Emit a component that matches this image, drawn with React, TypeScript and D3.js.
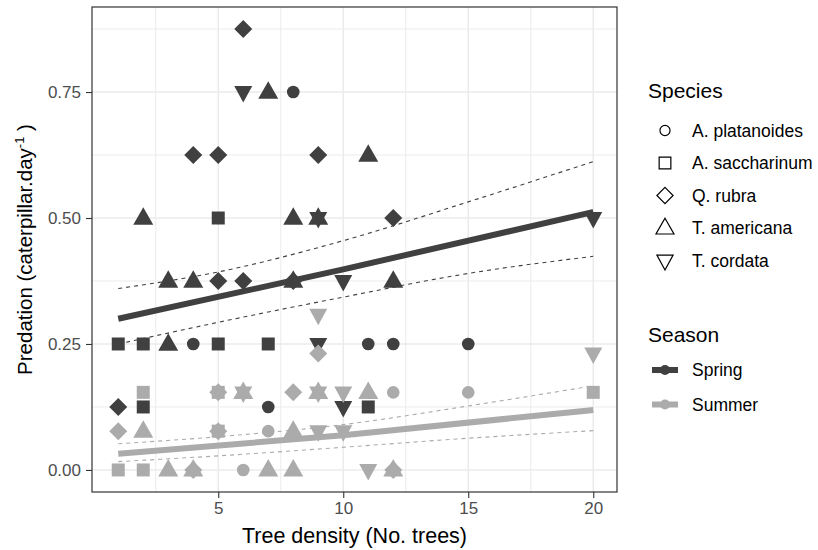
import React, { useRef, useEffect } from 'react';
import * as d3 from 'd3';

// species codes: P = A. platanoides, S = A. saccharinum, Q = Q. rubra, A = T. americana, C = T. cordata
const speciesCodes = ['P', 'S', 'Q', 'A', 'C'];
const speciesNames = ['A. platanoides', 'A. saccharinum', 'Q. rubra', 'T. americana', 'T. cordata'];
const seasonNames = ['Spring', 'Summer'];
const seasonColors = ['#404040', '#ABABAB'];

// [tree density, species, predation]
const springObs: [number, string, number][] = [
  [1, 'S', 0.25], [1, 'Q', 0.125],
  [2, 'A', 0.5], [2, 'S', 0.25], [2, 'S', 0.125],
  [3, 'A', 0.375], [3, 'A', 0.25],
  [4, 'Q', 0.625], [4, 'A', 0.375], [4, 'P', 0.25],
  [5, 'Q', 0.625], [5, 'S', 0.5], [5, 'Q', 0.375], [5, 'S', 0.25],
  [6, 'Q', 0.875], [6, 'C', 0.75], [6, 'Q', 0.375],
  [7, 'A', 0.75], [7, 'S', 0.25], [7, 'P', 0.125],
  [8, 'P', 0.75], [8, 'A', 0.5], [8, 'Q', 0.375], [8, 'A', 0.375],
  [9, 'Q', 0.625], [9, 'A', 0.5], [9, 'C', 0.5], [9, 'C', 0.25],
  [10, 'C', 0.375], [10, 'C', 0.125],
  [11, 'A', 0.625], [11, 'P', 0.25], [11, 'S', 0.125],
  [12, 'Q', 0.5], [12, 'A', 0.375], [12, 'P', 0.25],
  [15, 'P', 0.25],
  [20, 'C', 0.5],
];

const summerObs: [number, string, number][] = [
  [1, 'Q', 0.077], [1, 'S', 0],
  [2, 'S', 0.154], [2, 'A', 0.077], [2, 'S', 0],
  [3, 'A', 0],
  [4, 'Q', 0], [4, 'A', 0],
  [5, 'S', 0.154], [5, 'Q', 0.154], [5, 'S', 0.077], [5, 'Q', 0.077],
  [6, 'A', 0.154], [6, 'C', 0.154], [6, 'P', 0],
  [7, 'P', 0.077], [7, 'A', 0],
  [8, 'Q', 0.154], [8, 'A', 0.077], [8, 'A', 0],
  [9, 'C', 0.308], [9, 'Q', 0.231], [9, 'A', 0.154], [9, 'C', 0.154], [9, 'C', 0.077],
  [10, 'C', 0.154], [10, 'C', 0.077],
  [11, 'A', 0.154], [11, 'C', 0],
  [12, 'P', 0.154], [12, 'Q', 0], [12, 'A', 0],
  [15, 'P', 0.154],
  [20, 'C', 0.231], [20, 'S', 0.154],
];

// fitted lines and confidence bounds
const fitX = [1, 10, 20];
const springFit = [0.3, 0.398, 0.512];
const summerFit = [0.032, 0.069, 0.119];
const ciX = [1, 5, 10, 15, 20];
const springUpper = [0.36, 0.393, 0.455, 0.532, 0.612];
const springLower = [0.25, 0.293, 0.343, 0.39, 0.424];
const summerUpper = [0.052, 0.066, 0.09, 0.127, 0.167];
const summerLower = [0.0165, 0.028, 0.045, 0.063, 0.078];

const xTicks = [5, 10, 15, 20];
const yTicks = [0, 0.25, 0.5, 0.75];

const FONT = '"Liberation Sans", Arial, sans-serif';

function shapePath(code: string, scale = 1): string {
  const p = d3.path();
  if (code === 'P') {
    const r = 6.3 * scale;
    p.arc(0, 0, r, 0, Math.PI * 2);
  } else if (code === 'S') {
    const h = 6.5 * scale;
    p.rect(-h, -h, 2 * h, 2 * h);
  } else if (code === 'Q') {
    const d = 9 * scale;
    p.moveTo(0, -d); p.lineTo(d, 0); p.lineTo(0, d); p.lineTo(-d, 0); p.closePath();
  } else if (code === 'A') {
    const w = 10 * scale, h = 17.5 * scale;
    p.moveTo(0, -h * 0.62); p.lineTo(w, h * 0.38); p.lineTo(-w, h * 0.38); p.closePath();
  } else {
    const w = 9 * scale, h = 16.5 * scale;
    p.moveTo(0, h * 0.64); p.lineTo(w, -h * 0.36); p.lineTo(-w, -h * 0.36); p.closePath();
  }
  return p.toString();
}

const App = () => {
  const ref = useRef<SVGSVGElement>(null);

  useEffect(() => {
    const width = 818;
    const height = 550;
    const panel = { left: 92, right: 617, top: 7, bottom: 492 };

    const x = d3.scaleLinear().domain([-0.05, 20.95]).range([panel.left, panel.right]);
    const y = d3.scaleLinear().domain([-0.04375, 0.91875]).range([panel.bottom, panel.top]);

    const svg = d3.select(ref.current);
    svg.selectAll('*').remove();
    svg.attr('width', width).attr('height', height);

    svg.append('rect').attr('width', width).attr('height', height).attr('fill', '#fff');

    const grid = svg.append('g');
    const minorX = [2.5, 7.5, 12.5, 17.5];
    const minorY = [0.125, 0.375, 0.625, 0.875];
    grid.selectAll('.mx').data(minorX).join('line')
      .attr('x1', d => x(d)).attr('x2', d => x(d))
      .attr('y1', panel.top).attr('y2', panel.bottom)
      .attr('stroke', '#EBEBEB').attr('stroke-width', 1);
    grid.selectAll('.my').data(minorY).join('line')
      .attr('y1', d => y(d)).attr('y2', d => y(d))
      .attr('x1', panel.left).attr('x2', panel.right)
      .attr('stroke', '#EBEBEB').attr('stroke-width', 1);
    grid.append('g').selectAll('line').data(xTicks).join('line')
      .attr('x1', d => x(d)).attr('x2', d => x(d))
      .attr('y1', panel.top).attr('y2', panel.bottom)
      .attr('stroke', '#EBEBEB').attr('stroke-width', 1.5);
    grid.append('g').selectAll('line').data(yTicks).join('line')
      .attr('y1', d => y(d)).attr('y2', d => y(d))
      .attr('x1', panel.left).attr('x2', panel.right)
      .attr('stroke', '#EBEBEB').attr('stroke-width', 1.5);

    const plot = svg.append('g');

    // points
    const groups = [springObs, summerObs];
    groups.forEach((obs, si) => {
      plot.append('g').selectAll('path').data(obs).join('path')
        .attr('d', d => shapePath(d[1]))
        .attr('transform', d => `translate(${x(d[0])},${y(d[2])})`)
        .attr('fill', seasonColors[si]);
    });

    // fits and confidence bounds
    const fitLine = d3.line<number>()
      .x((d, i) => x(fitX[i]))
      .y(d => y(d))
      .curve(d3.curveMonotoneX);
    const ciLine = d3.line<number>()
      .x((d, i) => x(ciX[i]))
      .y(d => y(d))
      .curve(d3.curveMonotoneX);

    [[springUpper, springLower], [summerUpper, summerLower]].forEach((bounds, si) => {
      bounds.forEach(b => {
        plot.append('path')
          .attr('d', ciLine(b))
          .attr('fill', 'none')
          .attr('stroke', seasonColors[si])
          .attr('stroke-width', 1.1)
          .attr('stroke-dasharray', '4,4');
      });
    });
    [springFit, summerFit].forEach((f, si) => {
      plot.append('path')
        .attr('d', fitLine(f))
        .attr('fill', 'none')
        .attr('stroke', seasonColors[si])
        .attr('stroke-width', 6);
    });

    // panel border
    svg.append('rect')
      .attr('x', panel.left).attr('y', panel.top)
      .attr('width', panel.right - panel.left).attr('height', panel.bottom - panel.top)
      .attr('fill', 'none').attr('stroke', '#333333').attr('stroke-width', 1.2);

    // axes
    const xAxis = svg.append('g')
      .attr('transform', `translate(0,${panel.bottom})`)
      .call(d3.axisBottom(x).tickValues(xTicks).tickSize(6).tickPadding(4).tickFormat(d3.format('d')));
    const yAxis = svg.append('g')
      .attr('transform', `translate(${panel.left},0)`)
      .call(d3.axisLeft(y).tickValues(yTicks).tickSize(6).tickPadding(5).tickFormat(d3.format('.2f')));
    [xAxis, yAxis].forEach(a => {
      a.select('.domain').remove();
      a.selectAll('line').attr('stroke', '#333333').attr('stroke-width', 1.1);
      a.selectAll('text').attr('fill', '#4D4D4D').attr('font-size', 17).attr('font-family', FONT);
    });

    svg.append('text')
      .attr('x', (panel.left + panel.right) / 2).attr('y', 543)
      .attr('text-anchor', 'middle')
      .attr('font-size', 21.5).attr('font-family', FONT)
      .text('Tree density (No. trees)');

    const yt = svg.append('text')
      .attr('transform', `translate(32,${(panel.top + panel.bottom) / 2}) rotate(-90)`)
      .attr('text-anchor', 'middle')
      .attr('font-size', 20.5).attr('font-family', FONT);
    yt.append('tspan').text('Predation (caterpillar.day');
    yt.append('tspan').attr('font-size', 13).attr('dy', -8).text('-1');
    yt.append('tspan').attr('dy', 8).text(' )');

    // legends
    const leg = svg.append('g').attr('font-family', FONT);
    leg.append('text').attr('x', 648).attr('y', 98).attr('font-size', 21).text('Species');
    const items = leg.append('g').selectAll('g').data(speciesCodes).join('g')
      .attr('transform', (d, i) => `translate(665,${130.5 + i * 32.5})`);
    items.append('path')
      .attr('d', d => shapePath(d, d === 'P' ? 0.8 : 0.9))
      .attr('fill', 'none').attr('stroke', '#000').attr('stroke-width', 1.2);
    items.append('text')
      .attr('x', 27).attr('y', 6)
      .attr('font-size', 17.5)
      .text((d, i) => speciesNames[i]);

    leg.append('text').attr('x', 648).attr('y', 342).attr('font-size', 21).text('Season');
    const sItems = leg.append('g').selectAll('g').data(seasonNames).join('g')
      .attr('transform', (d, i) => `translate(665,${370 + i * 34.5})`);
    sItems.append('line')
      .attr('x1', -13).attr('x2', 13)
      .attr('stroke', (d, i) => seasonColors[i]).attr('stroke-width', 6);
    sItems.append('circle')
      .attr('r', 5)
      .attr('fill', (d, i) => seasonColors[i]);
    sItems.append('text')
      .attr('x', 27).attr('y', 6)
      .attr('font-size', 17.5)
      .text(d => d);
  }, []);

  return (
    <svg ref={ref} style={{ position: 'absolute', left: 0, top: 0 }} />
  );
};

export default App;
